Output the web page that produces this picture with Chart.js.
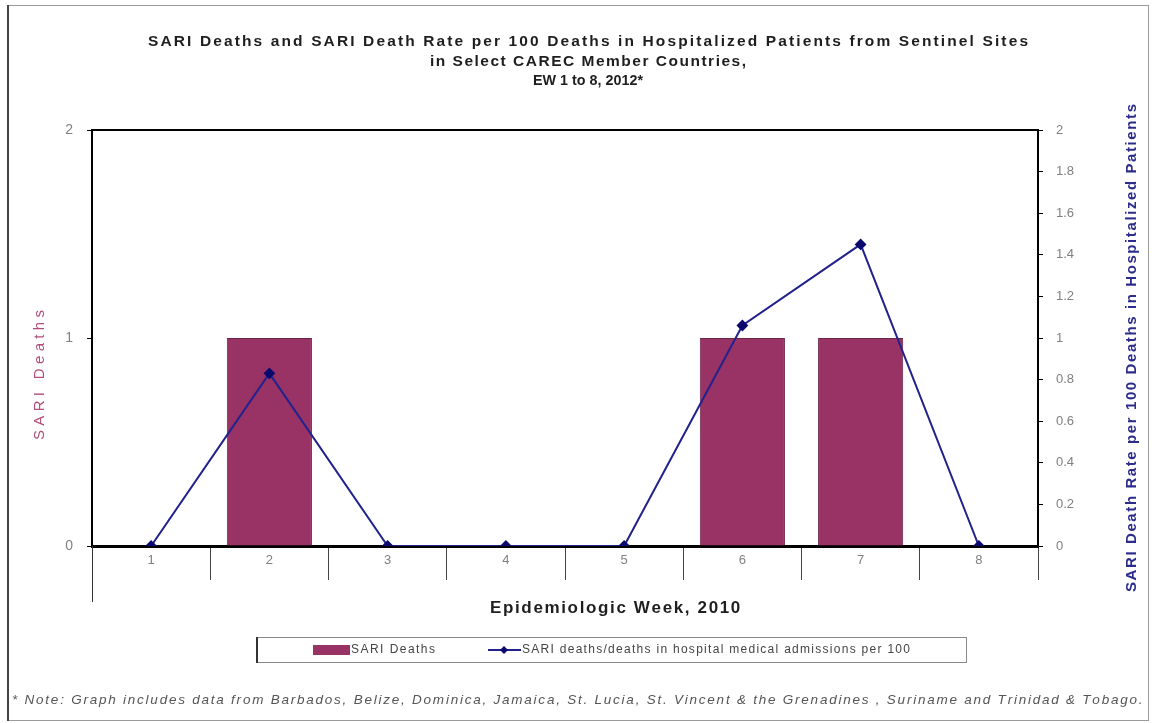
<!DOCTYPE html>
<html>
<head>
<meta charset="utf-8">
<style>
  html, body { margin: 0; padding: 0; background: #ffffff; }
  #wrap { width: 1154px; height: 723px; }
</style>
<script src="https://cdn.jsdelivr.net/npm/chart.js@4/dist/chart.umd.min.js"></script>
</head>
<body>
<div id="wrap"><canvas id="c" width="1154" height="723"></canvas></div>
<script>
// Epidemiologic weeks on the category axis
const weeks = ['1', '2', '3', '4', '5', '6', '7', '8'];
// SARI deaths per week (left axis)
const sariDeaths = [0, 1, 0, 0, 0, 1, 1, 0];
// SARI deaths per 100 deaths in hospital medical admissions (right axis)
const deathRate = [0, 0.83, 0, 0, 0, 1.06, 1.45, 0];

const titleLines = [
  'SARI Deaths and SARI Death Rate per 100 Deaths in Hospitalized Patients from Sentinel Sites',
  'in Select CAREC Member Countries,',
  'EW 1 to 8, 2012*'
];
const xTitle = 'Epidemiologic Week, 2010';
const leftTitle = 'SARI Deaths';
const rightTitle = 'SARI Death Rate per 100 Deaths in Hospitalized Patients';
const legendLabels = ['SARI Deaths', 'SARI deaths/deaths in hospital medical admissions per 100'];
const footNote = '* Note: Graph includes data from Barbados, Belize, Dominica, Jamaica, St. Lucia, St. Vincent & the Grenadines , Suriname and Trinidad & Tobago.';

const FONT = "'Liberation Sans', Arial, sans-serif";
const BAR_COLOR = '#993366';
const LINE_COLOR = '#22228c';

// Picks a font size (up to maxSize) for the text to reach the given width,
// then spreads the letters slightly for any remaining width.
function fittedText(ctx, text, x, y, width, align, style, maxSize) {
  ctx.font = style + ' 20px ' + FONT;
  const at20 = ctx.measureText(text).width;
  const size = Math.min(maxSize, 20 * width / at20);
  ctx.font = style + ' ' + size.toFixed(2) + 'px ' + FONT;
  const natural = ctx.measureText(text).width;
  const n = Math.max(text.length - 1, 1);
  const sp = (width - natural) / n;
  let start = x;
  if (align === 'center') start = x - width / 2;
  else if (align === 'right') start = x - width;
  ctx.textAlign = 'left';
  let cx = start;
  for (const ch of text) {
    ctx.fillText(ch, cx, y);
    cx += ctx.measureText(ch).width + sp;
  }
}

const decorations = {
  id: 'decorations',
  beforeDraw(chart) {
    const ctx = chart.ctx;
    ctx.save();
    ctx.fillStyle = '#ffffff';
    ctx.fillRect(0, 0, chart.width, chart.height);
    // outer frame
    ctx.strokeStyle = '#9a9a9a';
    ctx.lineWidth = 1;
    ctx.strokeRect(8.5, 5.5, 1140, 715);
    ctx.strokeStyle = '#444';
    ctx.lineWidth = 2;
    ctx.beginPath();
    ctx.moveTo(8, 5); ctx.lineTo(8, 721);
    ctx.stroke();
    ctx.restore();
  },
  afterDraw(chart) {
    const ctx = chart.ctx;
    const a = chart.chartArea;
    ctx.save();

    // top edge of plot area
    ctx.strokeStyle = '#000';
    ctx.lineWidth = 2;
    ctx.beginPath();
    ctx.moveTo(a.left - 1, a.top);
    ctx.lineTo(a.right + 1, a.top);
    ctx.stroke();

    // longer left divider under the category axis
    ctx.strokeStyle = '#333';
    ctx.lineWidth = 1;
    ctx.beginPath();
    ctx.moveTo(a.left + 0.5, a.bottom);
    ctx.lineTo(a.left + 0.5, a.bottom + 56);
    ctx.stroke();

    ctx.textBaseline = 'middle';

    // title
    ctx.fillStyle = '#1e1e1e';
    fittedText(ctx, titleLines[0], 588, 42, 880, 'center', 'bold', 15.5);
    fittedText(ctx, titleLines[1], 588, 62, 316, 'center', 'bold', 15.5);
    fittedText(ctx, titleLines[2], 588, 81, 110, 'center', 'bold', 15.5);

    // x axis title
    ctx.fillStyle = '#1e1e1e';
    fittedText(ctx, xTitle, 615, 608, 250, 'center', 'bold', 17);

    // left axis title
    ctx.save();
    ctx.translate(40, 375);
    ctx.rotate(-Math.PI / 2);
    ctx.fillStyle = '#b04d7a';
    fittedText(ctx, leftTitle, 0, 0, 130, 'center', 'normal', 15);
    ctx.restore();

    // right axis title
    ctx.save();
    ctx.translate(1132, 348);
    ctx.rotate(-Math.PI / 2);
    ctx.fillStyle = '#2c2c8a';
    fittedText(ctx, rightTitle, 0, 0, 488, 'center', 'bold', 15);
    ctx.restore();

    // legend box
    ctx.fillStyle = '#ffffff';
    ctx.fillRect(256, 637, 710, 25);
    ctx.strokeStyle = '#8a8a8a';
    ctx.lineWidth = 1;
    ctx.strokeRect(256.5, 637.5, 710, 25);
    ctx.strokeStyle = '#333';
    ctx.lineWidth = 2;
    ctx.beginPath();
    ctx.moveTo(257, 637); ctx.lineTo(257, 663);
    ctx.stroke();

    ctx.fillStyle = BAR_COLOR;
    ctx.fillRect(313, 645, 37, 10);
    ctx.strokeStyle = LINE_COLOR;
    ctx.lineWidth = 2;
    ctx.beginPath();
    ctx.moveTo(488, 650); ctx.lineTo(521, 650);
    ctx.stroke();
    ctx.fillStyle = '#0a0a6e';
    ctx.beginPath();
    ctx.moveTo(504, 646); ctx.lineTo(508, 650); ctx.lineTo(504, 654); ctx.lineTo(500, 650);
    ctx.closePath();
    ctx.fill();

    ctx.fillStyle = '#444';
    fittedText(ctx, legendLabels[0], 351, 650, 84, 'left', 'normal', 12);
    fittedText(ctx, legendLabels[1], 522, 650, 388, 'left', 'normal', 12);

    // footnote
    ctx.fillStyle = '#555';
    fittedText(ctx, footNote, 12, 700, 1128, 'left', 'italic', 13.5);

    ctx.restore();
  }
};

new Chart(document.getElementById('c'), {
  data: {
    labels: weeks,
    datasets: [
      {
        type: 'line',
        label: legendLabels[1],
        data: deathRate,
        yAxisID: 'y1',
        borderColor: LINE_COLOR,
        borderWidth: 2,
        tension: 0,
        pointStyle: 'rectRot',
        pointRadius: 4.5,
        pointBackgroundColor: '#0a0a6e',
        pointBorderColor: '#0a0a6e',
        order: 0
      },
      {
        type: 'bar',
        label: legendLabels[0],
        data: sariDeaths,
        yAxisID: 'y',
        backgroundColor: BAR_COLOR,
        borderColor: '#6b2448',
        borderWidth: 1,
        categoryPercentage: 1,
        barPercentage: 0.72,
        order: 1
      }
    ]
  },
  options: {
    responsive: false,
    animation: false,
    devicePixelRatio: 1,
    layout: { padding: { top: 130, left: 0, right: 0, bottom: 0 } },
    plugins: {
      legend: { display: false },
      title: { display: false },
      tooltip: { enabled: false }
    },
    scales: {
      x: {
        type: 'category',
        offset: true,
        grid: {
          offset: true,
          drawOnChartArea: false,
          drawTicks: true,
          tickLength: 34,
          color: '#444',
          lineWidth: 1
        },
        border: { display: true, color: '#000', width: 3 },
        ticks: {
          color: '#808080',
          font: { family: FONT, size: 13 },
          padding: -27
        },
        afterFit(s) { s.height = 177; }
      },
      y: {
        position: 'left',
        min: 0,
        max: 2,
        ticks: {
          stepSize: 1,
          color: '#808080',
          font: { family: FONT, size: 14 },
          padding: 14
        },
        grid: { drawOnChartArea: false, drawTicks: true, tickLength: 5, color: '#000' },
        border: { display: true, color: '#000', width: 2 },
        afterFit(s) { s.width = 92; }
      },
      y1: {
        position: 'right',
        min: 0,
        max: 2,
        ticks: {
          stepSize: 0.2,
          color: '#808080',
          font: { family: FONT, size: 13 },
          padding: 13,
          callback: (v) => String(Math.round(v * 10) / 10)
        },
        grid: { drawOnChartArea: false, drawTicks: true, tickLength: 5, color: '#000' },
        border: { display: true, color: '#000', width: 2 },
        afterFit(s) { s.width = 116; }
      }
    }
  },
  plugins: [decorations]
});
</script>
</body>
</html>
